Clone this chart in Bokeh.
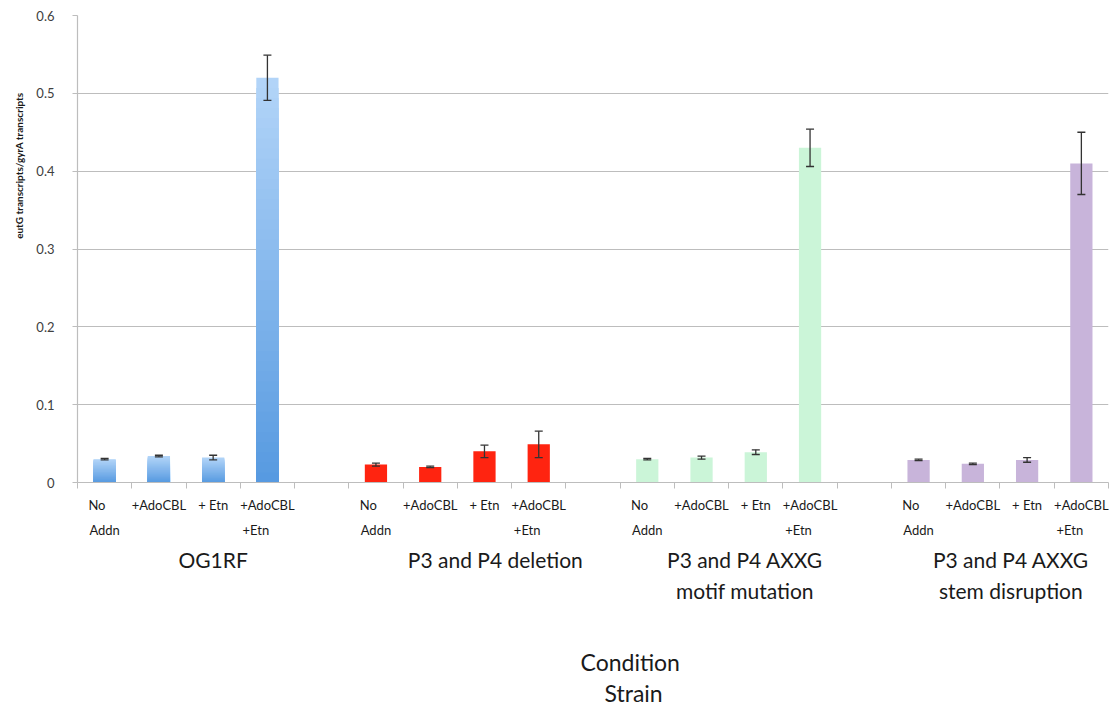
import numpy as np
from bokeh.plotting import figure
from bokeh.models import (ColumnDataSource, FixedTicker, LinearAxis, Title,
                          Whisker, TeeHead, Range1d, CustomJSTickFormatter)
from bokeh.embed import file_html
from bokeh.resources import INLINE

# ---- data -----------------------------------------------------------------
strains = ["OG1RF", "P3 and P4 deletion",
           "P3 and P4 AXXG\nmotif mutation", "P3 and P4 AXXG\nstem disruption"]
conditions = ["No\nAddn", "+AdoCBL", "+ Etn", "+AdoCBL\n+Etn"]

og1rf = [0.030, 0.034, 0.032, 0.520]
og1rf_err = [0.001, 0.001, 0.003, 0.029]
deletion = [0.023, 0.020, 0.040, 0.049]
deletion_err = [0.002, 0.001, 0.008, 0.017]
motif = [0.030, 0.032, 0.039, 0.430]
motif_err = [0.001, 0.002, 0.003, 0.024]
stem = [0.029, 0.024, 0.029, 0.410]
stem_err = [0.001, 0.001, 0.003, 0.040]

y_ticks = [0, 0.1, 0.2, 0.3, 0.4, 0.5, 0.6]

series = [og1rf, deletion, motif, stem]
series_err = [og1rf_err, deletion_err, motif_err, stem_err]

# ---- layout ---------------------------------------------------------------
W, H = 1114, 710
LEFT, RIGHT, TOP, BOTTOM = 77, 6, 15, 228
FONT = "Lato"
TEXT = "#1a1a1a"
frame_w = W - LEFT - RIGHT
group_size = len(conditions) + 1              # one empty slot after each strain
n_slots = len(strains) * group_size - 1
x_lo, x_hi = -0.5, n_slots - 0.5
slot_px = frame_w / n_slots
Y_MAX = 0.6


def lerp_color(c0, c1, t):
    a = np.array([int(c0[i:i + 2], 16) for i in (1, 3, 5)], float)
    b = np.array([int(c1[i:i + 2], 16) for i in (1, 3, 5)], float)
    c = np.round(a + (b - a) * t).astype(int)
    return "#%02x%02x%02x" % tuple(c)


def lookup_formatter(xs, labels):
    return CustomJSTickFormatter(
        args=dict(xs=list(xs), labels=list(labels)),
        code="""
        for (let i = 0; i < xs.length; i++) {
            if (Math.abs(xs[i] - tick) < 1e-6) return labels[i];
        }
        return "";
        """)


def bare_axis(ticks=()):
    ax = LinearAxis(ticker=FixedTicker(ticks=list(ticks)))
    ax.axis_line_color = None
    ax.major_tick_line_color = None
    ax.minor_tick_line_color = None
    ax.major_tick_in = 0
    ax.major_tick_out = 0
    return ax


def text_axis(xs, labels, size, standoff):
    order = np.argsort(xs)
    xs = [float(xs[i]) for i in order]
    labels = [labels[i] for i in order]
    ax = bare_axis(xs)
    ax.formatter = lookup_formatter(xs, labels)
    ax.major_label_standoff = standoff
    ax.major_label_text_font = FONT
    ax.major_label_text_font_size = size
    ax.major_label_text_color = TEXT
    return ax


p = figure(width=W, height=H, output_backend="svg", toolbar_location=None,
           x_range=Range1d(x_lo, x_hi), y_range=Range1d(0, Y_MAX),
           min_border_left=LEFT, min_border_right=RIGHT,
           min_border_top=TOP, min_border_bottom=BOTTOM)
p.outline_line_color = None
p.background_fill_color = "white"
p.border_fill_color = "white"

# grid
p.xgrid.grid_line_color = None
p.ygrid.ticker = FixedTicker(ticks=y_ticks[1:])
p.ygrid.grid_line_color = "#bdbdbd"
p.ygrid.grid_line_width = 1.2

# y axis
p.yaxis.ticker = FixedTicker(ticks=y_ticks)
p.yaxis.formatter = CustomJSTickFormatter(
    code="return tick === 0 ? '0' : tick.toFixed(1);")
p.yaxis.axis_line_color = "#bdbdbd"
p.yaxis.axis_line_width = 1.2
p.yaxis.major_tick_line_color = "#bdbdbd"
p.yaxis.major_tick_in = 0
p.yaxis.major_tick_out = 5
p.yaxis.minor_tick_line_color = None
p.yaxis.major_label_standoff = 18
p.yaxis.major_label_text_font = FONT
p.yaxis.major_label_text_font_size = "13px"
p.yaxis.major_label_text_color = "#404040"

p.add_layout(Title(text="eutG transcripts/gyrA transcripts", align="right",
                   offset=77, text_font=FONT, text_font_size="10px",
                   text_font_style="bold", text_color=TEXT, standoff=18), "left")

# ---- bars ------------------------------------------------------------------
bar_w = 0.41
positions = [[g * group_size + i for i in range(len(conditions))]
             for g in range(len(strains))]

# OG1RF bars: vertical blue gradient (light top, deeper bottom)
N = 40
gx, gtop, gcol = [], [], []
for k in range(N, 0, -1):
    col = lerp_color("#5599e0", "#b2d4f8", k / N)
    for x, v in zip(positions[0], og1rf):
        gx.append(x)
        gtop.append(v * k / N)
        gcol.append(col)
p.vbar(x="x", top="top", bottom=0, width=bar_w, fill_color="color",
       line_color=None, source=ColumnDataSource(dict(x=gx, top=gtop, color=gcol)))

flat_colors = [None, "#ff2410", "#cbf5d8", "#c8b4da"]
for g in (1, 2, 3):
    p.vbar(x=positions[g], top=series[g], bottom=0, width=bar_w,
           fill_color=flat_colors[g], line_color=None)

# error bars
wx, wup, wlo = [], [], []
for pos, vals, errs in zip(positions, series, series_err):
    for x, v, e in zip(pos, vals, errs):
        wx.append(x)
        wup.append(v + e)
        wlo.append(v - e)
err_color = "#333333"
whisk = Whisker(base="x", upper="upper", lower="lower", dimension="height",
                source=ColumnDataSource(dict(x=wx, upper=wup, lower=wlo)),
                line_color=err_color, line_width=1.3, level="overlay",
                upper_head=TeeHead(size=8, line_color=err_color, line_width=1.3),
                lower_head=TeeHead(size=8, line_color=err_color, line_width=1.3))
p.add_layout(whisk)

# ---- condition labels: each line of a label is left-aligned under its bar ----
char_px = 7.7
cond_lines = [[], []]
for pos in positions:
    for x, lab in zip(pos, conditions):
        lines = lab.split("\n")
        block = char_px * max(len(s) for s in lines)
        left = x - (block / 2) / slot_px
        for li, s in enumerate(lines):
            cond_lines[li].append((left + (char_px * len(s) / 2) / slot_px, s))

# main x axis: separators as minor ticks, first label line as major labels
xs1 = [c[0] for c in cond_lines[0]]
lb1 = [c[1] for c in cond_lines[0]]
order = np.argsort(xs1)
xs1 = [float(xs1[i]) for i in order]
lb1 = [lb1[i] for i in order]
p.xaxis.ticker = FixedTicker(ticks=xs1,
                             minor_ticks=[k - 0.5 for k in range(n_slots + 1)])
p.xaxis.formatter = lookup_formatter(xs1, lb1)
p.xaxis.axis_line_color = "#bdbdbd"
p.xaxis.axis_line_width = 1.2
p.xaxis.major_tick_line_color = None
p.xaxis.major_tick_in = 0
p.xaxis.major_tick_out = 0
p.xaxis.minor_tick_line_color = "#bdbdbd"
p.xaxis.minor_tick_in = 0
p.xaxis.minor_tick_out = 6
p.xaxis.major_label_standoff = 8
p.xaxis.major_label_text_font = FONT
p.xaxis.major_label_text_font_size = "13px"
p.xaxis.major_label_text_color = TEXT

p.add_layout(text_axis([c[0] for c in cond_lines[1]], [c[1] for c in cond_lines[1]],
                       "13px", 6), "below")

# ---- strain labels -----------------------------------------------------------
strain_x = [2.0, 7.2, 11.8, 16.7]
s_lines = [[], []]
for x, lab in zip(strain_x, strains):
    for li, s in enumerate(lab.split("\n")):
        s_lines[li].append((x, s))
p.add_layout(text_axis([c[0] for c in s_lines[0]], [c[1] for c in s_lines[0]],
                       "21px", 6), "below")
p.add_layout(text_axis([c[0] for c in s_lines[1]], [c[1] for c in s_lines[1]],
                       "21px", 3), "below")

# empty band between the strain names and the axis titles
# (one white tick at the far left edge reserves the height)
gap = bare_axis([x_lo + 0.05])
gap.formatter = lookup_formatter([x_lo + 0.05], [""])
gap.major_tick_line_color = "white"
gap.major_tick_out = 40
gap.major_label_standoff = 0
gap.major_label_text_color = None
p.add_layout(gap, "below")

# ---- axis titles -------------------------------------------------------------
for txt, off, so in (("Condition", 503, 0), ("Strain", 527, 2)):
    p.add_layout(Title(text=txt, align="left", offset=off, text_font=FONT,
                       text_font_size="23px", text_font_style="normal",
                       text_color=TEXT, standoff=so), "below")

open("out.html", "w").write(file_html(p, INLINE))
